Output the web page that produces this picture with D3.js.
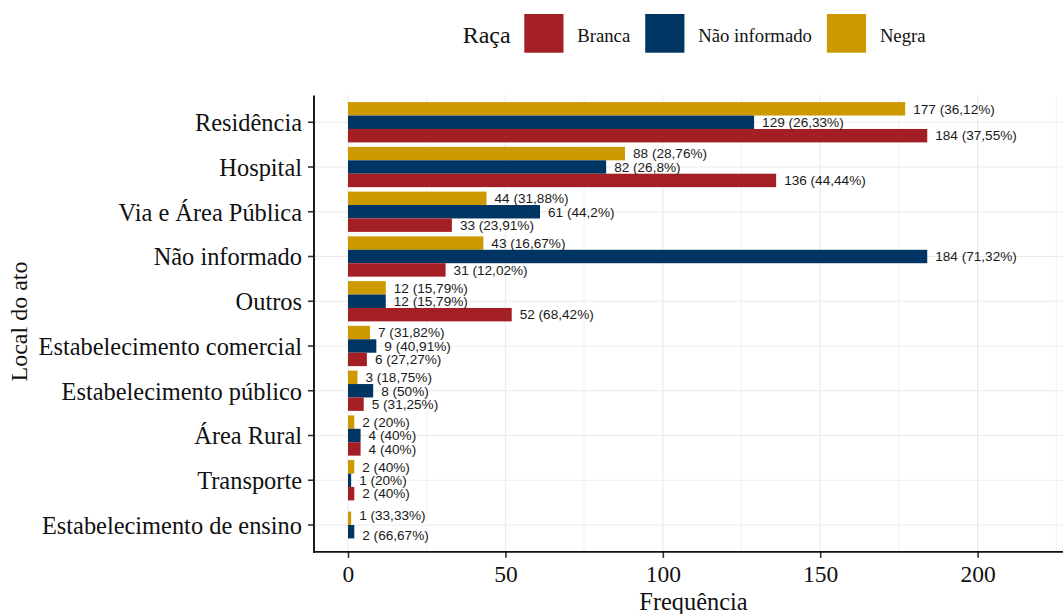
<!DOCTYPE html>
<html>
<head>
<meta charset="utf-8">
<script src="https://cdn.jsdelivr.net/npm/d3@7"></script>
<style>
  html, body { margin: 0; padding: 0; background: #fff; }
  svg { display: block; }
</style>
</head>
<body>
<svg id="chart" width="1063" height="614"></svg>
<script>
// ---- data ----
const categories = ["Residência", "Hospital", "Via e Área Pública", "Não informado", "Outros",
  "Estabelecimento comercial", "Estabelecimento público", "Área Rural", "Transporte", "Estabelecimento de ensino"];
const series = ["Branca", "Não informado", "Negra"];
const branca = [184, 136, 33, 31, 52, 6, 5, 4, 2, null];
const brancaPct = ["37,55%", "44,44%", "23,91%", "12,02%", "68,42%", "27,27%", "31,25%", "40%", "40%", null];
const naoInformado = [129, 82, 61, 184, 12, 9, 8, 4, 1, 2];
const naoInformadoPct = ["26,33%", "26,8%", "44,2%", "71,32%", "15,79%", "40,91%", "50%", "40%", "20%", "66,67%"];
const negra = [177, 88, 44, 43, 12, 7, 3, 2, 2, 1];
const negraPct = ["36,12%", "28,76%", "31,88%", "16,67%", "15,79%", "31,82%", "18,75%", "20%", "40%", "33,33%"];
const xTicks = [0, 50, 100, 150, 200];
const xMinorTicks = [25, 75, 125, 175, 225];

const colors = { "Branca": "#A31F24", "Não informado": "#003462", "Negra": "#CC9900" };

// ---- layout ----
const svg = d3.select("#chart");
const pLeft = 314, pRight = 1073, pTop = 95.4, pBottom = 551.85;
const serif = "'Liberation Serif', 'Times New Roman', serif";
const sans = "'Liberation Sans', Arial, sans-serif";

const x = d3.scaleLinear().domain([-10.8, 230.3]).range([pLeft, pRight]);
const y = d3.scaleBand().domain(categories).range([pTop, pBottom]).paddingInner(0).paddingOuter(0.1);
const step = y.step();

// build records
const rows = [];
categories.forEach((c, i) => {
  const present = [];
  // top-to-bottom order: Negra, Não informado, Branca
  const all = [
    { s: "Negra", v: negra[i], p: negraPct[i] },
    { s: "Não informado", v: naoInformado[i], p: naoInformadoPct[i] },
    { s: "Branca", v: branca[i], p: brancaPct[i] }
  ];
  all.forEach(d => { if (d.v != null) present.push(d); });
  const n = present.length;
  present.forEach((d, j) => {
    const barOff = (j - (n - 1) / 2) * 0.3;           // preserve single width
    const lblOff = (j - (n - 1) / 2) * (0.9 / n);      // text dodge
    rows.push({ cat: c, s: d.s, v: d.v, p: d.p, barOff, lblOff });
  });
});

const center = c => y(c) + step / 2;

// gridlines
const g = svg.append("g");
g.selectAll("line.minor").data(xMinorTicks.filter(t => x(t) <= pRight)).enter().append("line")
  .attr("x1", d => x(d)).attr("x2", d => x(d)).attr("y1", pTop).attr("y2", pBottom)
  .attr("stroke", "#EBEBEB").attr("stroke-width", 0.6);
g.selectAll("line.majorx").data(xTicks).enter().append("line")
  .attr("x1", d => x(d)).attr("x2", d => x(d)).attr("y1", pTop).attr("y2", pBottom)
  .attr("stroke", "#EBEBEB").attr("stroke-width", 1.2);
g.selectAll("line.majory").data(categories).enter().append("line")
  .attr("x1", pLeft).attr("x2", pRight).attr("y1", d => center(d)).attr("y2", d => center(d))
  .attr("stroke", "#EBEBEB").attr("stroke-width", 1.2);

// bars
const bh = 0.3 * step;
svg.append("g").selectAll("rect").data(rows).enter().append("rect")
  .attr("x", x(0))
  .attr("y", d => center(d.cat) + d.barOff * step - bh / 2)
  .attr("width", d => x(d.v) - x(0))
  .attr("height", bh)
  .attr("fill", d => colors[d.s]);

// value labels
svg.append("g").selectAll("text").data(rows).enter().append("text")
  .attr("x", d => x(d.v) + 8)
  .attr("y", d => center(d.cat) + d.lblOff * step)
  .attr("dy", "0.35em")
  .attr("font-family", sans)
  .attr("font-size", 13.6)
  .attr("fill", "#1a1a1a")
  .text(d => `${d.v} (${d.p})`);

// axes
const yAxis = d3.axisLeft(y).tickSize(6).tickPadding(6);
const ya = svg.append("g").attr("transform", `translate(${pLeft},0)`).call(yAxis);
ya.select(".domain").remove();
ya.selectAll(".tick line").attr("stroke", "#333").attr("stroke-width", 1.6);
ya.selectAll(".tick text").attr("font-family", serif).attr("font-size", 24.4).attr("fill", "#111")
  .attr("dy", "0.36em").attr("x", -12);

const xAxis = d3.axisBottom(x).tickValues(xTicks).tickSize(6).tickPadding(6);
const xa = svg.append("g").attr("transform", `translate(0,${pBottom})`).call(xAxis);
xa.select(".domain").remove();
xa.selectAll(".tick line").attr("stroke", "#333").attr("stroke-width", 1.6);
xa.selectAll(".tick text").attr("font-family", serif).attr("font-size", 23.5).attr("fill", "#111")
  .attr("dy", null).attr("y", 29.8);

// axis lines
svg.append("line").attr("x1", pLeft).attr("x2", pLeft).attr("y1", pTop).attr("y2", pBottom + 0.9)
  .attr("stroke", "#111").attr("stroke-width", 1.9);
svg.append("line").attr("x1", pLeft - 0.9).attr("x2", pRight).attr("y1", pBottom).attr("y2", pBottom)
  .attr("stroke", "#111").attr("stroke-width", 1.9);

// axis titles
svg.append("text").attr("x", 693.5).attr("y", 610).attr("text-anchor", "middle")
  .attr("font-family", serif).attr("font-size", 24.4).attr("fill", "#111").text("Frequência");
svg.append("text").attr("transform", "translate(27,321.5) rotate(-90)").attr("text-anchor", "middle")
  .attr("font-family", serif).attr("font-size", 24).attr("fill", "#111").text("Local do ato");

// legend
const lg = svg.append("g");
lg.append("text").attr("x", 462.7).attr("y", 43.3).attr("font-family", serif).attr("font-size", 24)
  .attr("fill", "#111").text("Raça");
let lx = 524.3;
series.forEach(s => {
  lg.append("rect").attr("x", lx).attr("y", 14).attr("width", 39.2).attr("height", 38.7).attr("fill", colors[s]);
  const t = lg.append("text").attr("x", lx + 53).attr("y", 41.7).attr("font-family", serif)
    .attr("font-size", 18.7).attr("fill", "#111").text(s);
  lx = lx + 53 + t.node().getComputedTextLength() + 15;
});
</script>
</body>
</html>
